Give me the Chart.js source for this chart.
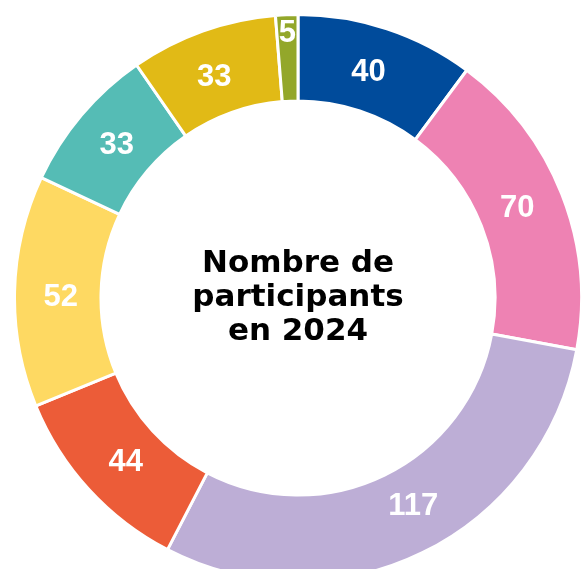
<!DOCTYPE html>
<html>
<head>
<meta charset="utf-8">
<script src="https://cdn.jsdelivr.net/npm/chart.js@4"></script>
<style>
  html, body { margin: 0; padding: 0; background: #fff; overflow: hidden; width: 582px; height: 569px; }
  #wrap { position: absolute; left: 13px; top: 13px; width: 570px; height: 570px; }
</style>
</head>
<body>
<div id="wrap"><canvas id="chart"></canvas></div>
<script>
// ── Data ──────────────────────────────────────────────────────────────────────
const values = [40, 70, 117, 44, 52, 33, 33, 5];
const colors = ['#004B9B', '#EE82B3', '#BDAED6', '#EC5C38', '#FED962', '#55BCB5', '#E1BA16', '#93A72A'];
const titleLines = ['Nombre de', 'participants', 'en 2024'];

// ── Plugins ───────────────────────────────────────────────────────────────────
// labels sit on the ring, nudged a little (degrees / px) like in the original
const arcLabels = {
    id: 'arcLabels',
    afterDatasetsDraw(chart, args, opts) {
        const ctx = chart.ctx;
        const meta = chart.getDatasetMeta(0);
        const nudge = opts.nudge || [];
        ctx.save();
        ctx.fillStyle = '#fff';
        ctx.font = 'bold 31px "Liberation Sans", Arial, sans-serif';
        ctx.textAlign = 'center';
        ctx.textBaseline = 'middle';
        meta.data.forEach((arc, i) => {
            const [da, dr] = nudge[i] || [0, 0];
            const a = (arc.startAngle + arc.endAngle) / 2 + da * Math.PI / 180;
            const r = (arc.innerRadius + arc.outerRadius) / 2 - 3 + dr;
            ctx.fillText(String(values[i]), arc.x + r * Math.cos(a), arc.y + r * Math.sin(a) + 1);
        });
        ctx.restore();
    }
};

const centerTitle = {
    id: 'centerTitle',
    afterDraw(chart) {
        const ctx = chart.ctx;
        const arc = chart.getDatasetMeta(0).data[0];
        ctx.save();
        ctx.fillStyle = '#000';
        ctx.font = 'bold 31px "DejaVu Sans", sans-serif';
        ctx.textAlign = 'center';
        ctx.textBaseline = 'middle';
        titleLines.forEach((line, i) => {
            ctx.fillText(line, arc.x, arc.y + (i - 1) * 34);
        });
        ctx.restore();
    }
};

// ── Chart ─────────────────────────────────────────────────────────────────────
new Chart(document.getElementById('chart'), {
    type: 'doughnut',
    data: {
        labels: values.map(String),
        datasets: [{
            data: values,
            backgroundColor: colors,
            borderColor: '#fff',
            borderWidth: 3
        }]
    },
    options: {
        responsive: true,
        maintainAspectRatio: false,
        animation: false,
        cutout: '69.5%',
        plugins: {
            legend: { display: false },
            tooltip: { enabled: false },
            arcLabels: {
                nudge: [[-1, 0], [-1, 0], [-3, 0], [-1, 0], [-1, 0], [0, 0], [-1, 0], [0, 28]]
            }
        }
    },
    plugins: [arcLabels, centerTitle]
});
</script>
</body>
</html>
